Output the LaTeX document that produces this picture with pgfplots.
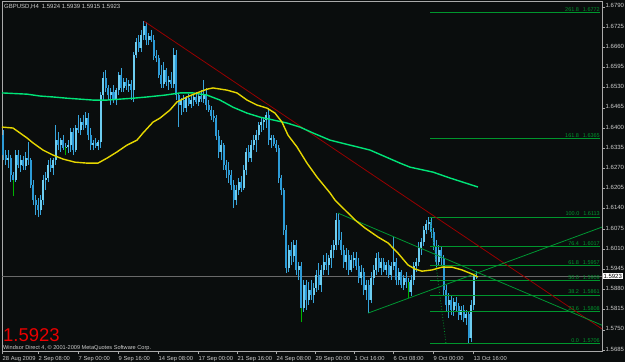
\documentclass[border=0pt]{standalone}
\usepackage{pgfplots}
\usepackage{pgfplotstable}
\usepackage{fontspec}
\setmainfont{Liberation Sans}
\pgfplotsset{compat=1.18}
\definecolor{bg}{RGB}{10,13,13}
\definecolor{linegray}{RGB}{170,170,170}
\definecolor{labgray}{RGB}{205,205,205}
\definecolor{hline}{RGB}{105,105,105}
\definecolor{bull}{RGB}{110,205,240}
\definecolor{bear}{RGB}{45,155,215}
\definecolor{wick}{RGB}{55,165,220}
\definecolor{yellowma}{RGB}{230,215,0}
\definecolor{greenma}{RGB}{0,228,120}
\definecolor{redline}{RGB}{150,0,0}
\definecolor{trendgreen}{RGB}{0,150,50}
\definecolor{fibgreen}{RGB}{0,150,45}
\definecolor{dojigreen}{RGB}{0,180,0}
\definecolor{bigred}{RGB}{235,0,0}

\pgfplotstableread{
i O H L C
0 1.6377 1.6393 1.6297 1.6313
1 1.6313 1.6329 1.6281 1.6297
2 1.6297 1.6329 1.6271 1.6303
3 1.6303 1.6313 1.6226 1.6248
4 1.6248 1.6258 1.6181 1.6232
5 1.6232 1.6329 1.6226 1.6313
6 1.6313 1.6329 1.6271 1.6281
7 1.6281 1.6313 1.6258 1.6297
8 1.6297 1.6310 1.6265 1.6277
9 1.6277 1.6323 1.6265 1.6303
10 1.6303 1.6355 1.6281 1.6297
11 1.6297 1.6303 1.6207 1.6216
12 1.6216 1.6232 1.6152 1.6168
13 1.6168 1.6184 1.6120 1.6152
14 1.6152 1.6174 1.6113 1.6136
15 1.6136 1.6184 1.6120 1.6168
16 1.6168 1.6248 1.6152 1.6232
17 1.6232 1.6258 1.6200 1.6239
18 1.6239 1.6297 1.6226 1.6281
19 1.6281 1.6303 1.6258 1.6271
20 1.6271 1.6303 1.6248 1.6297
21 1.6297 1.6409 1.6281 1.6361
22 1.6361 1.6387 1.6329 1.6345
23 1.6345 1.6368 1.6323 1.6361
24 1.6361 1.6377 1.6329 1.6335
25 1.6335 1.6352 1.6313 1.6339
26 1.6339 1.6361 1.6319 1.6345
27 1.6345 1.6400 1.6323 1.6387
28 1.6387 1.6400 1.6313 1.6329
29 1.6329 1.6409 1.6323 1.6400
30 1.6400 1.6442 1.6384 1.6393
31 1.6393 1.6432 1.6377 1.6419
32 1.6419 1.6442 1.6393 1.6409
33 1.6409 1.6451 1.6400 1.6432
34 1.6432 1.6448 1.6361 1.6377
35 1.6377 1.6400 1.6329 1.6345
36 1.6345 1.6361 1.6329 1.6352
37 1.6352 1.6368 1.6335 1.6342
38 1.6342 1.6361 1.6329 1.6355
39 1.6355 1.6516 1.6335 1.6506
40 1.6506 1.6580 1.6490 1.6561
41 1.6561 1.6587 1.6516 1.6529
42 1.6529 1.6538 1.6490 1.6506
43 1.6506 1.6529 1.6474 1.6516
44 1.6516 1.6538 1.6480 1.6490
45 1.6490 1.6529 1.6474 1.6522
46 1.6522 1.6580 1.6506 1.6570
47 1.6570 1.6593 1.6516 1.6529
48 1.6529 1.6561 1.6516 1.6548
49 1.6548 1.6561 1.6522 1.6535
50 1.6535 1.6554 1.6516 1.6542
51 1.6542 1.6554 1.6490 1.6522
52 1.6522 1.6645 1.6484 1.6635
53 1.6635 1.6690 1.6625 1.6677
54 1.6677 1.6699 1.6645 1.6657
55 1.6657 1.6715 1.6645 1.6699
56 1.6699 1.6744 1.6683 1.6728
57 1.6728 1.6741 1.6667 1.6683
58 1.6683 1.6706 1.6667 1.6696
59 1.6696 1.6715 1.6677 1.6683
60 1.6683 1.6699 1.6619 1.6632
61 1.6632 1.6651 1.6612 1.6625
62 1.6625 1.6635 1.6561 1.6570
63 1.6570 1.6603 1.6529 1.6542
64 1.6542 1.6612 1.6529 1.6587
65 1.6587 1.6593 1.6535 1.6548
66 1.6548 1.6567 1.6522 1.6554
67 1.6554 1.6580 1.6529 1.6542
68 1.6542 1.6657 1.6529 1.6635
69 1.6635 1.6651 1.6490 1.6506
70 1.6506 1.6513 1.6403 1.6474
71 1.6474 1.6496 1.6442 1.6490
72 1.6490 1.6506 1.6451 1.6464
73 1.6464 1.6503 1.6451 1.6496
74 1.6496 1.6509 1.6471 1.6477
75 1.6477 1.6503 1.6464 1.6490
76 1.6490 1.6509 1.6471 1.6500
77 1.6500 1.6516 1.6477 1.6484
78 1.6484 1.6509 1.6471 1.6503
79 1.6503 1.6522 1.6484 1.6493
80 1.6493 1.6554 1.6480 1.6506
81 1.6506 1.6529 1.6458 1.6474
82 1.6474 1.6490 1.6451 1.6458
83 1.6458 1.6471 1.6426 1.6438
84 1.6438 1.6458 1.6419 1.6432
85 1.6432 1.6442 1.6361 1.6374
86 1.6374 1.6393 1.6303 1.6323
87 1.6323 1.6361 1.6297 1.6345
88 1.6345 1.6352 1.6265 1.6281
89 1.6281 1.6297 1.6239 1.6265
90 1.6265 1.6290 1.6223 1.6248
91 1.6248 1.6265 1.6200 1.6216
92 1.6216 1.6232 1.6142 1.6168
93 1.6168 1.6216 1.6152 1.6200
94 1.6200 1.6239 1.6184 1.6226
95 1.6226 1.6245 1.6194 1.6207
96 1.6207 1.6281 1.6200 1.6265
97 1.6265 1.6335 1.6248 1.6323
98 1.6323 1.6345 1.6290 1.6303
99 1.6303 1.6361 1.6290 1.6345
100 1.6345 1.6377 1.6329 1.6361
101 1.6361 1.6393 1.6323 1.6377
102 1.6377 1.6419 1.6361 1.6409
103 1.6409 1.6432 1.6387 1.6419
104 1.6419 1.6435 1.6393 1.6426
105 1.6426 1.6451 1.6400 1.6442
106 1.6442 1.6464 1.6345 1.6361
107 1.6361 1.6377 1.6335 1.6368
108 1.6368 1.6377 1.6342 1.6348
109 1.6348 1.6361 1.6323 1.6335
110 1.6335 1.6345 1.6223 1.6239
111 1.6239 1.6248 1.6184 1.6200
112 1.6200 1.6207 1.6055 1.6071
113 1.6071 1.6087 1.5933 1.5949
114 1.5949 1.6023 1.5936 1.6007
115 1.6007 1.6033 1.5959 1.5988
116 1.5988 1.6039 1.5968 1.6023
117 1.6023 1.6039 1.5926 1.5943
118 1.5943 1.5968 1.5910 1.5955
119 1.5955 1.5968 1.5775 1.5820
120 1.5820 1.5910 1.5807 1.5894
121 1.5894 1.5910 1.5814 1.5846
122 1.5846 1.5904 1.5830 1.5878
123 1.5878 1.5910 1.5846 1.5862
124 1.5862 1.5901 1.5836 1.5885
125 1.5885 1.5943 1.5872 1.5926
126 1.5926 1.5965 1.5878 1.5894
127 1.5894 1.5959 1.5872 1.5943
128 1.5943 1.5991 1.5926 1.5968
129 1.5968 1.5997 1.5943 1.5959
130 1.5959 1.5991 1.5926 1.5981
131 1.5981 1.6023 1.5949 1.6007
132 1.6007 1.6039 1.5981 1.6023
133 1.6023 1.6126 1.6007 1.6104
134 1.6104 1.6123 1.6023 1.6039
135 1.6039 1.6065 1.5991 1.6007
136 1.6007 1.6023 1.5949 1.5968
137 1.5968 1.6013 1.5943 1.5991
138 1.5991 1.6007 1.5926 1.5943
139 1.5943 1.5991 1.5936 1.5975
140 1.5975 1.6001 1.5949 1.5981
141 1.5981 1.6001 1.5943 1.5955
142 1.5955 1.5981 1.5901 1.5917
143 1.5917 1.5959 1.5894 1.5936
144 1.5936 1.5949 1.5862 1.5878
145 1.5878 1.5910 1.5846 1.5894
146 1.5894 1.5910 1.5804 1.5846
147 1.5846 1.5936 1.5836 1.5917
148 1.5917 1.5959 1.5894 1.5943
149 1.5943 1.5997 1.5926 1.5981
150 1.5981 1.6001 1.5936 1.5949
151 1.5949 1.5981 1.5926 1.5968
152 1.5968 1.5981 1.5936 1.5943
153 1.5943 1.5968 1.5926 1.5959
154 1.5959 1.5975 1.5917 1.5926
155 1.5926 1.5968 1.5910 1.5955
156 1.5955 1.6049 1.5943 1.5968
157 1.5968 1.5981 1.5894 1.5910
158 1.5910 1.5949 1.5894 1.5936
159 1.5936 1.5943 1.5885 1.5894
160 1.5894 1.5926 1.5878 1.5917
161 1.5917 1.5936 1.5885 1.5904
162 1.5904 1.5917 1.5852 1.5872
163 1.5872 1.5926 1.5859 1.5910
164 1.5910 1.5968 1.5894 1.5955
165 1.5955 1.5981 1.5936 1.5968
166 1.5968 1.6033 1.5955 1.6013
167 1.6013 1.6046 1.5991 1.6033
168 1.6033 1.6084 1.6020 1.6071
169 1.6071 1.6104 1.6059 1.6091
170 1.6091 1.6113 1.6071 1.6097
171 1.6097 1.6110 1.6046 1.6065
172 1.6065 1.6078 1.6007 1.6020
173 1.6020 1.6039 1.5949 1.5968
174 1.5968 1.6023 1.5955 1.6007
175 1.6007 1.6020 1.5959 1.5981
176 1.5981 1.5991 1.5862 1.5878
177 1.5878 1.5894 1.5807 1.5830
178 1.5830 1.5869 1.5788 1.5846
179 1.5846 1.5862 1.5798 1.5814
180 1.5814 1.5852 1.5794 1.5840
181 1.5840 1.5856 1.5807 1.5827
182 1.5827 1.5836 1.5782 1.5798
183 1.5798 1.5827 1.5782 1.5814
184 1.5814 1.5830 1.5775 1.5788
185 1.5788 1.5814 1.5765 1.5801
186 1.5801 1.5807 1.5706 1.5724
187 1.5724 1.5846 1.5710 1.5830
188 1.5830 1.5929 1.5814 1.5924
189 1.5924 1.5939 1.5915 1.5923
}\candles

\pgfplotstableread{
i L H
4 1.6181 1.6232
25 1.6313 1.6339
119 1.5775 1.5820
162 1.5852 1.5904
}\greenbars

\pgfplotstableread{
i p
-0.6 1.6403
3.8 1.6400
9.4 1.6368
11.8 1.6352
15.8 1.6329
19.8 1.6313
23.8 1.6300
28.6 1.6290
33.4 1.6287
37.8 1.6287
41.4 1.6303
45.4 1.6323
49.4 1.6345
53.4 1.6361
55.8 1.6384
59.8 1.6419
62.6 1.6432
66.6 1.6458
69.4 1.6484
73.4 1.6500
77.4 1.6513
81.4 1.6525
83.8 1.6529
89.4 1.6522
93.4 1.6513
97.4 1.6490
101.4 1.6474
105.4 1.6464
108.6 1.6448
111.4 1.6419
113.8 1.6377
117.4 1.6339
121.4 1.6287
125.4 1.6242
130.6 1.6191
132.6 1.6168
136.6 1.6136
140.6 1.6104
144.6 1.6078
149.8 1.6049
153.8 1.6030
157.8 1.5997
161.8 1.5959
164.6 1.5946
167.4 1.5939
171.4 1.5943
175.4 1.5952
179.4 1.5952
183.4 1.5943
187.4 1.5930
189.8 1.5920
}\yellowMA

\pgfplotstableread{
i p
-0.6 1.6513
9.4 1.6509
14.6 1.6503
19.8 1.6500
25.4 1.6496
30.6 1.6493
35.8 1.6490
41.4 1.6490
46.6 1.6493
51.8 1.6496
57.4 1.6500
64.6 1.6506
70.6 1.6513
75.8 1.6513
81.4 1.6506
86.6 1.6490
91.8 1.6467
97.4 1.6448
102.6 1.6435
107.8 1.6426
113.4 1.6416
118.6 1.6403
123.8 1.6384
130.6 1.6361
138.6 1.6345
146.6 1.6329
158.6 1.6287
162.6 1.6274
171.8 1.6258
178.6 1.6239
189.8 1.6210
}\greenMA

\begin{document}
\begin{tikzpicture}
\useasboundingbox (0,0) rectangle (625pt,362pt);
\fill[bg] (0,0) rectangle (625pt,362pt);
\begin{axis}[
  at={(2pt,11pt)}, anchor=south west,
  scale only axis, width=600pt, height=350pt,
  xmin=-0.6, xmax=239.4, ymin=1.5682, ymax=1.6809,
  axis line style={draw=linegray, line width=0.8pt},
  tick style={draw=linegray, line width=0.6pt},
  tick align=outside, major tick length=3pt,
  xtick pos=lower, ytick pos=right,
  /pgf/number format/assume math mode=true,
  xtick={-0.6,13.8,29.8,45.8,61.8,77.8,93.4,109,124.6,140.2,155.8,171.8,187.8},
  xticklabels={28 Aug 2009,2 Sep 08:00,7 Sep 00:00,9 Sep 16:00,14 Sep 08:00,17 Sep 00:00,21 Sep 16:00,24 Sep 08:00,29 Sep 00:00,1 Oct 16:00,6 Oct 08:00,9 Oct 00:00,13 Oct 16:00},
  ytick={1.6790,1.6725,1.6660,1.6595,1.6530,1.6465,1.6400,1.6335,1.6270,1.6205,1.6140,1.6075,1.6010,1.5945,1.5880,1.5815,1.5750,1.5685},
  yticklabels={1.6790,1.6725,1.6660,1.6595,1.6530,1.6465,1.6400,1.6335,1.6270,1.6205,1.6140,1.6075,1.6010,1.5945,1.5880,1.5815,1.5750,1.5685},
  xticklabel style={anchor=north west, inner sep=0pt, xshift=0.5pt, yshift=-2pt, font=\fontsize{5.8}{5.8}\selectfont, text=labgray},
  yticklabel style={anchor=west, inner sep=0pt, xshift=0.5pt, yshift=1pt, font=\fontsize{6}{6}\selectfont, text=labgray},
]
% current price line
\addplot[hline, line width=0.8pt] coordinates {(-0.6,1.5923) (239.4,1.5923)};

% candle wicks
\addplot[draw=none, mark=none, forget plot,
  error bars/.cd, y dir=plus, y explicit, error mark=none,
  error bar style={solid, draw=wick, line width=1pt}]
  table[x=i, y=L, y error expr=\thisrow{H}-\thisrow{L}] {\candles};
% bull bodies
\addplot[draw=none, mark=none, forget plot,
  x filter/.expression={\thisrow{C}>\thisrow{O} ? x : nan},
  error bars/.cd, y dir=plus, y explicit, error mark=none,
  error bar style={solid, draw=bull, line width=2pt}]
  table[x=i, y=O, y error expr=\thisrow{C}-\thisrow{O}] {\candles};
% bear bodies
\addplot[draw=none, mark=none, forget plot,
  x filter/.expression={\thisrow{C}<\thisrow{O} ? x : nan},
  error bars/.cd, y dir=plus, y explicit, error mark=none,
  error bar style={solid, draw=bear, line width=2pt}]
  table[x=i, y=C, y error expr=\thisrow{O}-\thisrow{C}] {\candles};
% green bars
\addplot[draw=none, mark=none, forget plot,
  error bars/.cd, y dir=plus, y explicit, error mark=none,
  error bar style={solid, draw=dojigreen, line width=1pt}]
  table[x=i, y=L, y error expr=\thisrow{H}-\thisrow{L}] {\greenbars};

% Fibonacci levels
\addplot[fibgreen, line width=1pt] coordinates {(170.6,1.6772) (238.6,1.6772)};
\addplot[fibgreen, line width=1pt] coordinates {(170.6,1.6365) (238.6,1.6365)};
\addplot[fibgreen, line width=1pt] coordinates {(170.6,1.6113) (238.6,1.6113)};
\addplot[fibgreen, line width=1pt] coordinates {(170.6,1.6017) (238.6,1.6017)};
\addplot[fibgreen, line width=1pt] coordinates {(170.6,1.5957) (238.6,1.5957)};
\addplot[fibgreen, line width=1pt] coordinates {(170.6,1.5909) (238.6,1.5909)};
\addplot[fibgreen, line width=1pt] coordinates {(170.6,1.5861) (238.6,1.5861)};
\addplot[fibgreen, line width=1pt] coordinates {(170.6,1.5808) (238.6,1.5808)};
\addplot[fibgreen, line width=1pt] coordinates {(170.6,1.5706) (238.6,1.5706)};
\addplot[fibgreen, line width=0.8pt, dotted] coordinates {(170.6,1.6113) (177,1.5706)};

% trend lines
\addplot[redline, line width=0.8pt] coordinates {(56.2,1.6744) (239.4,1.5753)};
\addplot[trendgreen, line width=0.8pt] coordinates {(133.8,1.6126) (239.4,1.5765)};
\addplot[trendgreen, line width=0.8pt] coordinates {(145.8,1.5804) (239.4,1.6081)};

% moving averages
\addplot[greenma, line width=1.4pt] table[x=i, y=p] {\greenMA};
\addplot[yellowma, line width=1.4pt] table[x=i, y=p] {\yellowMA};

\coordinate (pb) at (axis cs:239.4,1.5923);
\coordinate (f1) at (axis cs:238.6,1.6772);
\coordinate (f2) at (axis cs:238.6,1.6365);
\coordinate (f3) at (axis cs:238.6,1.6113);
\coordinate (f4) at (axis cs:238.6,1.6017);
\coordinate (f5) at (axis cs:238.6,1.5957);
\coordinate (f6) at (axis cs:238.6,1.5909);
\coordinate (f7) at (axis cs:238.6,1.5861);
\coordinate (f8) at (axis cs:238.6,1.5808);
\coordinate (f9) at (axis cs:238.6,1.5706);
\end{axis}
\begin{scope}[every node/.style={anchor=south east, inner sep=0pt, yshift=1.2pt, text=fibgreen, font=\fontsize{5.5}{5.5}\selectfont}]
\node at (f1) {261.8\hspace{4pt}1.6772};
\node at (f2) {161.8\hspace{4pt}1.6365};
\node at (f3) {100.0\hspace{4pt}1.6113};
\node at (f4) {76.4\hspace{4pt}1.6017};
\node at (f5) {61.8\hspace{4pt}1.5957};
\node at (f6) {50.0\hspace{4pt}1.5909};
\node at (f7) {38.2\hspace{4pt}1.5861};
\node at (f8) {23.6\hspace{4pt}1.5808};
\node at (f9) {0.0\hspace{4pt}1.5706};
\end{scope}
\node[anchor=west, fill=white, text=black, inner sep=0.8pt, font=\fontsize{6}{6}\selectfont] at ([xshift=0.5pt]pb) {1.5923};
\node[anchor=base west, inner sep=0pt, text=labgray, font=\fontsize{6}{6}\selectfont] at (4pt,353pt) {GBPUSD,H4\hspace{3pt}1.5924 1.5939 1.5915 1.5923};
\node[anchor=base west, inner sep=0pt, text=bigred, font=\fontsize{18.5}{18.5}\selectfont] at (3pt,20.8pt) {1.5923};
\node[anchor=base west, inner sep=0pt, text=labgray, font=\fontsize{5.6}{5.6}\selectfont] at (3pt,12.3pt) {Windsor Direct 4, © 2001-2009 MetaQuotes Software Corp.};
\end{tikzpicture}
\end{document}
